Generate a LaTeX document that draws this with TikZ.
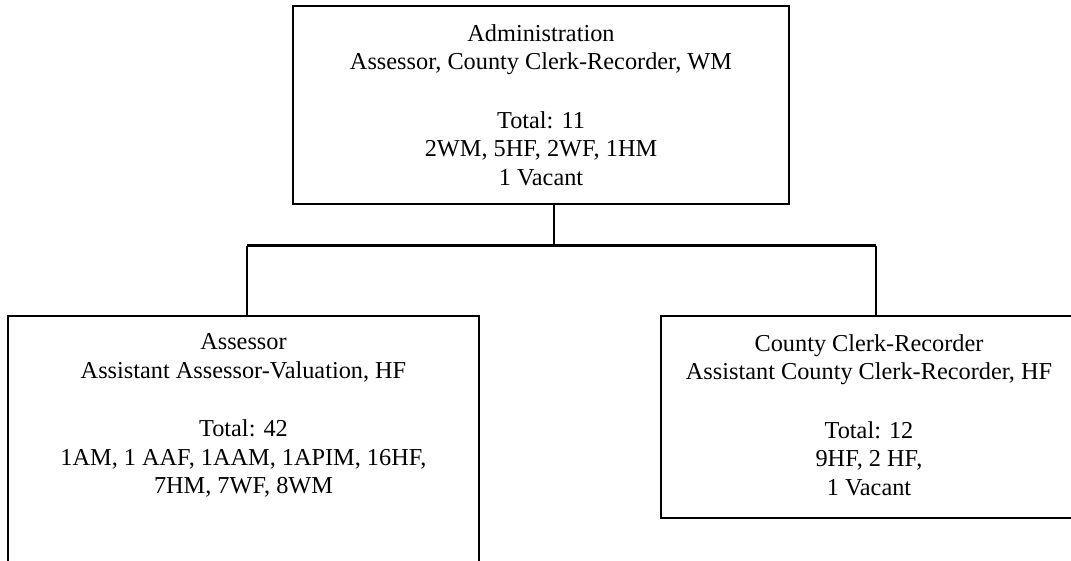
\documentclass[tikz,border=0pt]{standalone}
\usepackage{fontspec}
\setmainfont{Liberation Serif}
\begin{document}
\begin{tikzpicture}[x=1pt,y=-1pt,
  box/.style={draw=black,line width=1.8pt,rectangle,inner sep=0pt},
  label/.style={align=center,inner sep=0pt,font=\fontsize{24.3}{28.5}\selectfont},
  conn/.style={draw=black,line width=1.8pt}]
\useasboundingbox (0,0) rectangle (1071,560);
\clip (0,0) rectangle (1071,560);
\fill[white] (0,0) rectangle (1071,560);
% boxes
\node[box,minimum width=496pt,minimum height=198pt] (admin) at (541,105) {};
\node[box,minimum width=471pt,minimum height=324pt] (assessor) at (243.5,478) {};
\node[box,minimum width=416pt,minimum height=202pt] (clerk) at (869,417) {};
% texts
\node[label] (admintext) at (541,105) {Administration\\Assessor, County Clerk-Recorder, WM\\[30pt]Total: 11\\2WM, 5HF, 2WF, 1HM\\1 Vacant};
\node[label] (assessortext) at (243.5,415.5) {Assessor\\Assistant Assessor-Valuation, HF\\[30pt]Total: 42\\1AM, 1 AAF, 1AAM, 1APIM, 16HF,\\7HM, 7WF, 8WM};
\node[label] (clerktext) at (869,415) {County Clerk-Recorder\\Assistant County Clerk-Recorder, HF\\[30pt]Total: 12\\9HF, 2 HF,\\1 Vacant};
% connectors
\coordinate (hub) at (554,245.5);
\coordinate (jl) at (247,245.5);
\coordinate (jr) at (876,245.5);
\draw[conn] (admin.south -| hub) -- (hub);
\draw[conn,line width=2.2pt] (jl) -- (jr);
\draw[conn] (jl) -- (jl |- assessor.north);
\draw[conn] (jr) -- (jr |- clerk.north);
\end{tikzpicture}
\end{document}
